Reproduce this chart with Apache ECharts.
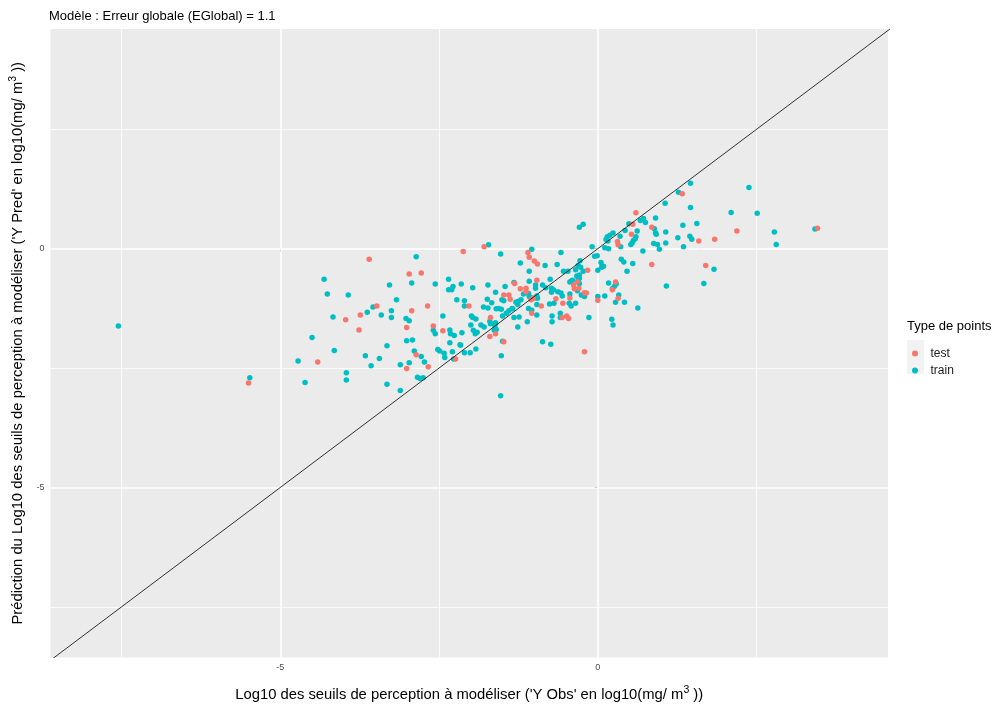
<!DOCTYPE html>
<html>
<head>
<meta charset="UTF-8">
<title>Modèle : Erreur globale</title>
<script src="https://cdn.jsdelivr.net/npm/echarts@6/dist/echarts.min.js"></script>
</head>
<body style="margin:0;background:#fff;">
<div id="container" style="width:1004px;height:707px;"></div>
<script type="text/javascript">
// observed vs predicted values (log10 mg/m3)
var testX = [-5.50,-3.60,-2.97,-2.78,-3.48,-2.93,-2.68,-3.74,-3.97,-3.01,
  -3.76,-2.59,-2.44,-2.86,-2.24,-2.67,-4.41,-3.01,-2.12,-1.79,
  -1.10,-1.08,-1.00,-0.95,-0.16,-1.31,-1.22,-0.96,-1.48,-1.40,
  -1.38,-1.13,-1.13,-1.02,-1.05,-2.03,-0.66,-0.55,-0.44,-0.38,
  -0.37,-0.32,-0.30,-0.21,-0.18,0.00,-0.89,-1.04,-0.56,-0.49,
  -0.46,-1.69,-1.61,-1.70,-1.48,-0.21,1.33,0.60,0.55,0.85,
  0.53,0.31,0.32,1.59,1.84,0.85,1.70,0.28,0.23,0.32,
  2.19,3.46];
var testY = [-2.81,-0.22,-0.53,-0.51,-1.20,-1.30,-1.20,-1.39,-1.49,-1.65,
  -1.70,-1.62,-1.72,-2.22,-2.31,-2.47,-2.37,-2.51,-0.06,0.04,
  -0.08,-0.18,-0.26,-0.32,-0.45,-0.73,-0.84,-0.66,-0.97,-0.97,
  -1.06,-0.83,-0.90,-1.04,-1.07,-1.20,-1.05,-1.14,-1.03,-0.76,
  -0.84,-0.69,-0.83,-0.92,-0.93,-1.08,-1.20,-1.35,-1.44,-1.41,
  -1.46,-1.44,-1.78,-1.84,-1.95,-2.16,1.15,0.75,0.51,0.45,
  0.30,0.15,0.08,0.16,0.20,-0.33,-0.35,-0.70,-0.86,-1.04,
  0.37,0.43];
var trainX = [-7.55,-4.72,-5.48,-4.61,-2.86,-4.31,-2.93,-3.28,-2.56,-2.35,
  -2.35,-2.30,-2.28,-4.26,-3.93,-3.17,-2.22,-3.54,-3.63,-3.25,
  -3.41,-3.25,-3.02,-2.97,-2.44,-4.17,-2.59,-2.56,-2.33,-2.32,
  -2.26,-4.50,-2.92,-3.01,-3.32,-2.33,-2.17,-4.15,-2.52,-2.49,
  -2.42,-2.29,-2.89,-2.78,-3.66,-3.44,-2.41,-2.27,-2.73,-2.97,
  -3.11,-3.57,-3.96,-2.84,-2.80,-2.75,-3.96,-3.32,-3.11,
  -1.72,-1.53,-1.04,-0.58,-1.22,-0.83,-0.64,-0.28,-0.31,-0.27,
  -0.09,-0.01,-0.05,-1.08,-0.54,-0.47,0.00,-0.35,-0.23,-0.29,
  -0.29,-1.32,-1.08,-0.75,-2.15,-1.97,-1.73,-1.46,-1.61,-1.51,
  -1.48,-0.98,-0.98,-0.87,-0.82,-1.09,-1.17,-1.08,-1.05,-1.00,
  -0.96,-0.95,-1.21,-1.25,-1.29,-1.26,-1.34,-1.40,-1.35,-1.44,-1.50,
  -1.74,-1.67,-1.60,-1.56,-1.52,-1.80,-1.73,
  -2.10,-2.10,-0.73,-0.73,-0.70,-0.63,-0.58,-0.56,-0.76,-0.69,
  -0.44,-0.45,-0.42,-0.35,-0.44,-0.42,-0.40,-0.33,-0.31,-0.29,
  -0.32,-0.26,-0.21,0.00,-0.96,-1.09,-1.04,-0.96,-1.32,-1.24,
  -1.11,-0.72,-0.72,-0.59,-0.59,
  -0.14,-1.26,-1.99,-1.97,-1.92,-1.70,-1.69,-2.00,-1.84,-1.79,
  -1.61,-1.62,-1.60,-2.14,-1.93,-1.90,-1.96,-1.63,-1.50,-0.87,
  -0.74,-2.16,-2.10,-2.01,-1.92,-1.52,-1.53,
  1.46,1.27,1.46,1.06,0.49,0.67,0.72,0.75,0.91,-0.29,
  -0.23,0.89,0.91,0.92,1.07,1.34,1.56,0.62,0.60,0.59,
  0.43,0.35,0.24,0.19,0.15,0.13,0.16,0.36,0.52,0.54,
  0.56,0.11,0.17,0.88,0.94,0.97,1.07,1.26,1.45,1.48,
  1.35,0.71,0.37,0.41,0.55,0.46,1.83,1.67,1.08,0.17,
  0.29,0.26,0.23,0.11,0.33,0.28,0.42,0.63,0.22,0.24,
  0.06,0.09,0.05,2.38,2.10,2.51,2.78,3.42,2.81];
var trainY = [-1.62,-2.35,-2.70,-2.80,-0.17,-0.64,-0.72,-0.76,-0.74,-0.64,
  -0.86,-0.86,-0.79,-0.95,-0.97,-1.07,-1.07,-1.22,-1.33,-1.30,
  -1.39,-1.44,-1.46,-1.51,-1.41,-1.43,-1.71,-1.78,-1.70,-1.78,
  -1.82,-1.86,-1.91,-1.93,-2.03,-1.97,-2.01,-2.13,-2.11,-2.14,
  -2.19,-2.16,-2.14,-2.26,-2.24,-2.30,-2.28,-2.31,-2.37,-2.39,
  -2.43,-2.45,-2.60,-2.69,-2.72,-2.70,-2.75,-2.84,-2.97,
  0.08,-0.11,-0.01,-0.08,-0.30,-0.35,-0.33,-0.25,-0.35,-0.39,
  0.04,-0.15,-0.16,-0.47,-0.47,-0.47,-0.45,-0.44,-0.47,-0.55,
  -0.62,-0.71,-0.68,-0.64,-0.74,-0.82,-0.76,-0.79,-0.91,-1.07,
  -1.09,-0.76,-0.83,-0.76,-0.82,-0.94,-0.95,-1.00,-1.04,-1.03,
  -0.99,-1.04,-1.07,-1.10,-1.12,-1.17,-1.26,-1.30,-1.25,-1.35,-1.41,
  -1.06,-1.13,-1.26,-1.25,-1.27,-1.22,-1.24,
  -1.09,-1.20,-0.91,-0.83,-0.86,-0.90,-0.93,-0.99,-1.16,-1.14,
  -0.95,-1.14,-1.20,-1.14,-0.70,-0.68,-0.66,-0.57,-0.65,-0.73,
  -0.88,-0.97,-1.00,-1.00,-1.17,-1.25,-1.29,-1.39,-1.44,-1.43,
  -1.53,-1.41,-1.53,-1.44,-1.35,
  -1.44,-1.64,-1.41,-1.44,-1.47,-1.52,-1.57,-1.60,-1.60,-1.64,
  -1.55,-1.62,-1.69,-1.76,-1.78,-1.75,-1.71,-1.71,-1.94,-1.95,
  -2.00,-2.02,-2.18,-2.18,-2.10,-2.24,-3.08,
  1.37,1.18,0.86,0.95,0.52,0.59,0.63,0.55,0.64,0.45,
  0.51,0.42,0.33,0.30,0.35,0.49,0.53,0.37,0.25,0.21,
  0.38,0.26,0.33,0.28,0.25,0.19,0.16,0.04,0.09,0.12,
  0.17,0.02,0.00,0.11,0.09,-0.01,0.12,0.23,0.26,0.20,
  0.04,-0.05,-0.22,-0.28,-0.31,-0.47,-0.43,-0.73,-0.78,-0.72,
  -0.74,-0.79,-0.84,-0.99,-0.97,-1.12,-1.12,-1.24,-1.48,-1.60,
  -0.39,-0.37,-0.29,1.28,0.76,0.74,0.35,0.41,0.09];
// y = x reference line
var identityLine = [-9, 5];
var majorBreaks = [-5, 0];
var minorBreaks = [-7.5, -2.5, 2.5];

var FONT = "'Liberation Sans', Arial, sans-serif";

function pairs(xs, ys) {
  return xs.map(function (x, i) { return [x, ys[i]]; });
}

var gridLines = [];
majorBreaks.forEach(function (v) {
  gridLines.push({ xAxis: v, lineStyle: { width: 1.6 } });
  gridLines.push({ yAxis: v, lineStyle: { width: 1.6 } });
});
minorBreaks.forEach(function (v) {
  gridLines.push({ xAxis: v, lineStyle: { width: 0.8 } });
  gridLines.push({ yAxis: v, lineStyle: { width: 0.8 } });
});

var myChart = echarts.init(document.getElementById('container'));
var option = {
  animation: false,
  textStyle: { fontFamily: FONT },
  title: {
    text: 'Modèle : Erreur globale (EGlobal) = 1.1',
    left: 44, top: 5,
    textStyle: { fontSize: 13, fontWeight: 'normal', color: '#000', fontFamily: FONT }
  },
  grid: {
    left: 48, right: 116, top: 29, bottom: 43,
    show: true, backgroundColor: '#EBEBEB', borderWidth: 0
  },
  legend: {
    orient: 'vertical',
    left: 907, top: 340,
    itemWidth: 17, itemHeight: 6, itemGap: 0,
    icon: 'circle',
    data: ['test', 'train'],
    textStyle: { fontSize: 12, color: '#1a1a1a', lineHeight: 17, fontFamily: FONT, padding: [0, 0, 0, 2] }
  },
  graphic: [
    { type: 'text', left: 907, top: 320, style: { text: 'Type de points', fontSize: 13, fill: '#000', font: '13px ' + FONT } },
    { type: 'rect', shape: { x: 907, y: 340, width: 17, height: 17 }, style: { fill: '#F2F2F2' }, z: -1 },
    { type: 'rect', shape: { x: 907, y: 357, width: 17, height: 17 }, style: { fill: '#F2F2F2' }, z: -1 }
  ],
  xAxis: {
    type: 'value', min: -8.62, max: 4.57,
    name: "Log10 des seuils de perception à modéliser ('Y Obs' en log10(mg/ m{s|3} ))",
    nameLocation: 'middle', nameGap: 27,
    nameTextStyle: { fontSize: 14.8, color: '#000', fontFamily: FONT,
      rich: { s: { fontSize: 10.5, padding: [0, 0, 9, 0], fontFamily: FONT, color: '#000' } } },
    axisLine: { show: false },
    axisTick: { show: true, length: 3, lineStyle: { color: '#333' }, customValues: majorBreaks },
    axisLabel: { fontSize: 9, color: '#4D4D4D', margin: 6, customValues: majorBreaks },
    splitLine: { show: false }
  },
  yAxis: {
    type: 'value', min: -8.56, max: 4.60,
    name: "Prédiction du Log10 des seuils de perception à modéliser ('Y Pred' en log10(mg/ m{s|3} ))",
    nameLocation: 'middle', nameGap: 22, nameRotate: 90,
    nameTextStyle: { fontSize: 14.8, color: '#000', fontFamily: FONT,
      rich: { s: { fontSize: 10.5, padding: [0, 0, 9, 0], fontFamily: FONT, color: '#000' } } },
    axisLine: { show: false },
    axisTick: { show: true, length: 3, lineStyle: { color: '#333' }, customValues: majorBreaks },
    axisLabel: { fontSize: 9, color: '#4D4D4D', margin: 6, customValues: majorBreaks },
    splitLine: { show: false }
  },
  series: [
    {
      name: 'grid', type: 'line', data: [], silent: true, z: 1,
      markLine: {
        silent: true, symbol: 'none', z: 1, animation: false,
        label: { show: false },
        lineStyle: { color: '#ffffff', type: 'solid', width: 1 },
        data: gridLines
      }
    },
    {
      name: 'train', type: 'scatter', symbol: 'circle', symbolSize: 5.5, z: 3,
      itemStyle: { color: '#00BFC4', opacity: 1 },
      data: pairs(trainX, trainY)
    },
    {
      name: 'test', type: 'scatter', symbol: 'circle', symbolSize: 5.5, z: 3,
      itemStyle: { color: '#F8766D', opacity: 1 },
      data: pairs(testX, testY)
    },
    {
      name: 'diag', type: 'line', silent: true, z: 4, symbol: 'none', clip: true,
      lineStyle: { color: '#000', width: 0.8 },
      data: pairs(identityLine, identityLine)
    }
  ]
};
myChart.setOption(option);
</script>
</body>
</html>
